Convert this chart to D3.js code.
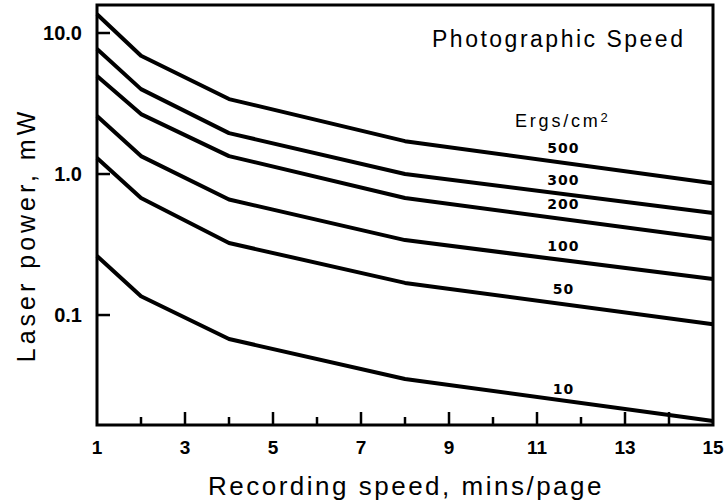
<!DOCTYPE html>
<html>
<head>
<meta charset="utf-8">
<script src="https://cdn.jsdelivr.net/npm/d3@7"></script>
<style>
body { margin:0; background:#fff; }
svg { display:block; }
.num { font-family: "Liberation Sans", Arial, sans-serif; font-weight:700; }
.lab { font-family: "DejaVu Sans", sans-serif; font-weight:700; }
.ttl { font-family: "Liberation Sans", Arial, sans-serif; }
</style>
</head>
<body>
<div id="chart"></div>
<script>
// recording speed breakpoints (mins/page)
var speeds = [1, 2, 4, 8, 15];
// photographic speed, ergs/cm2
var ergs = ["500", "300", "200", "100", "50", "10"];
// laser power in mW for each curve at the speeds above
var p500 = [13.6, 6.9, 3.4, 1.71, 0.86];
var p300 = [7.7, 4.0, 1.95, 1.0, 0.53];
var p200 = [4.95, 2.66, 1.34, 0.676, 0.346];
var p100 = [2.58, 1.34, 0.66, 0.34, 0.18];
var p50 = [1.30, 0.676, 0.324, 0.169, 0.086];
var p10 = [0.262, 0.136, 0.0676, 0.0352, 0.0177];
var series = [p500, p300, p200, p100, p50, p10];
// where each curve label sits (speed, power)
var labelAt = [[11.6, 1.53], [11.6, 0.906], [11.6, 0.615], [11.6, 0.308], [11.6, 0.153], [11.6, 0.0299]];

var xTicks = d3.range(1, 16);
var xLabels = [1, 3, 5, 7, 9, 11, 13, 15];
var yTicks = [10, 1, 0.1];

var W = 726, H = 503;
var margin = {t:5, r:13, b:78, l:97};

var svg = d3.select('#chart').append('svg')
    .attr('width', W)
    .attr('height', H);

var x = d3.scaleLinear().domain([1, 15]).range([margin.l, W - margin.r]);
var y = d3.scaleLog().domain([0.0166, 15.8]).range([H - margin.b, margin.t]);

var x0 = x.range()[0], x1 = x.range()[1], y0 = y.range()[0], y1 = y.range()[1];

// frame
svg.append('path')
    .attr('d', 'M' + x0 + ',' + y1 + 'H' + x1 + 'V' + y0 + 'H' + x0 + 'Z')
    .attr('fill', 'none')
    .attr('stroke', '#000')
    .attr('stroke-width', 3);

// x ticks pointing up
svg.selectAll('.xt')
    .data(xTicks.slice(1, -1))
    .enter().append('line')
    .attr('x1', function(d){ return x(d); })
    .attr('x2', function(d){ return x(d); })
    .attr('y1', y0)
    .attr('y2', function(d){ return y0 - (d % 2 || d == 14 ? 13 : 8); })
    .attr('stroke', '#000')
    .attr('stroke-width', 2.5);

svg.selectAll('.xl')
    .data(xLabels)
    .enter().append('text')
    .attr('class', 'num')
    .attr('x', function(d){ return x(d); })
    .attr('y', y0 + 29)
    .attr('text-anchor', 'middle')
    .attr('font-size', 19)
    .text(function(d){ return d; });

// y ticks pointing right
svg.selectAll('.yt')
    .data(yTicks)
    .enter().append('line')
    .attr('x1', x0)
    .attr('x2', x0 + 13)
    .attr('y1', function(d){ return y(d); })
    .attr('y2', function(d){ return y(d); })
    .attr('stroke', '#000')
    .attr('stroke-width', 2.5);

svg.selectAll('.yl')
    .data(yTicks)
    .enter().append('text')
    .attr('class', 'num')
    .attr('x', x0 - 15)
    .attr('y', function(d){ return y(d) + 7; })
    .attr('text-anchor', 'end')
    .attr('font-size', 20)
    .text(function(d){ return d3.format('.1f')(d); });

// curves
var line = d3.line()
    .x(function(d, i){ return x(speeds[i]); })
    .y(function(d){ return y(d); });

svg.selectAll('.curve')
    .data(series)
    .enter().append('path')
    .attr('d', line)
    .attr('fill', 'none')
    .attr('stroke', '#000')
    .attr('stroke-width', 4)
    .attr('stroke-linejoin', 'round');

svg.selectAll('.cl')
    .data(ergs)
    .enter().append('text')
    .attr('class', 'lab')
    .attr('x', function(d, i){ return x(labelAt[i][0]); })
    .attr('y', function(d, i){ return y(labelAt[i][1]) + 5; })
    .attr('text-anchor', 'middle')
    .attr('font-size', 14)
    .attr('letter-spacing', 1)
    .text(function(d){ return d; });

// legend headings
svg.append('text')
    .attr('class', 'ttl')
    .attr('x', 432)
    .attr('y', 47)
    .attr('font-size', 23)
    .attr('letter-spacing', 2.5)
    .text('Photographic Speed');

var eg = svg.append('text')
    .attr('class', 'ttl')
    .attr('x', 515)
    .attr('y', 127)
    .attr('font-size', 18)
    .attr('letter-spacing', 2.8)
    .text('Ergs/cm');
eg.append('tspan')
    .attr('font-size', 13)
    .attr('dy', -5)
    .text('2');

// axis titles
svg.append('text')
    .attr('class', 'ttl')
    .attr('x', 208)
    .attr('y', 495)
    .attr('font-size', 26)
    .attr('letter-spacing', 2.5)
    .text('Recording speed, mins/page');

svg.append('text')
    .attr('class', 'ttl')
    .attr('transform', 'translate(35,235) rotate(-90)')
    .attr('text-anchor', 'middle')
    .attr('font-size', 25)
    .attr('letter-spacing', 4)
    .text('Laser power, mW');
</script>
</body>
</html>
